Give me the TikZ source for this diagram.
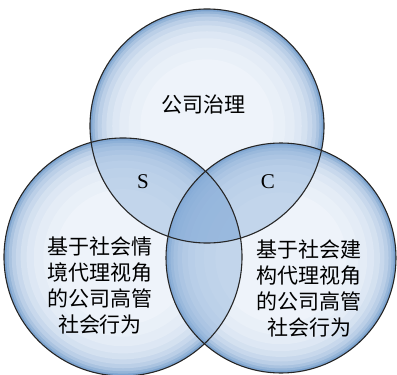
\documentclass[tikz,border=0pt]{standalone}
\usepackage{fontspec}
\setmainfont{Liberation Serif}
\newfontfamily\cjk{Noto Sans CJK SC}
\definecolor{bubin}{HTML}{EEF3FA}
\definecolor{bubout}{HTML}{7CA3CF}
\definecolor{lens}{HTML}{86ACD8}

\begin{document}
\begin{tikzpicture}[x=1pt,y=-1pt]
    \tikzset{bubble/.style={circle,inner sep=0pt,minimum size=#1},
      rim/.style={draw=black!85,line width=1.1pt},
      overlap/.style={fill=lens,fill opacity=0.42},
      cjktext/.style={font=\cjk\fontsize{21}{26}\selectfont,align=center},
      setmark/.style={font=\fontsize{21}{24}\selectfont}}
    \useasboundingbox (0,0) rectangle (397,375);
    % the three sets
    \node[bubble=234pt] (gov) at (207,126) {};
    \node[bubble=238pt] (sit) at (123,257) {};
    \node[bubble=230pt] (con) at (281,258) {};
    % glassy fill, from the rim inwards
    \foreach \n/\r in {gov/117,sit/119,con/115}
      \foreach \f/\p in {1/0,0.98/22,0.96/40,0.935/55,0.90/67,0.86/77,0.81/85,0.75/91,0.67/96,0.57/100}
        \fill[bubin!\p!bubout] (\n.center) circle ({\r*\f});
    % overlaps
    \begin{scope}
      \clip (gov.center) circle (117);
      \fill[overlap] (sit.center) circle (119);
      \fill[overlap] (con.center) circle (115);
    \end{scope}
    \begin{scope}
      \clip (sit.center) circle (119);
      \fill[overlap] (con.center) circle (115);
    \end{scope}
    \draw[rim] (gov.center) circle (117);
    \draw[rim] (sit.center) circle (119);
    \draw[rim] (con.center) circle (115);
    % labels
    \node[cjktext] (govtext) at (203,105) {公司治理};
    \node[setmark] (s) at (143,182) {S};
    \node[setmark] (c) at (268,182) {C};
    \node[cjktext] (sittext) at (100,286) {基于社会情\\境代理视角\\的公司高管\\社会行为};
    \node[cjktext] (context) at (309,289) {基于社会建\\构代理视角\\的公司高管\\社会行为};
\end{tikzpicture}
\end{document}
